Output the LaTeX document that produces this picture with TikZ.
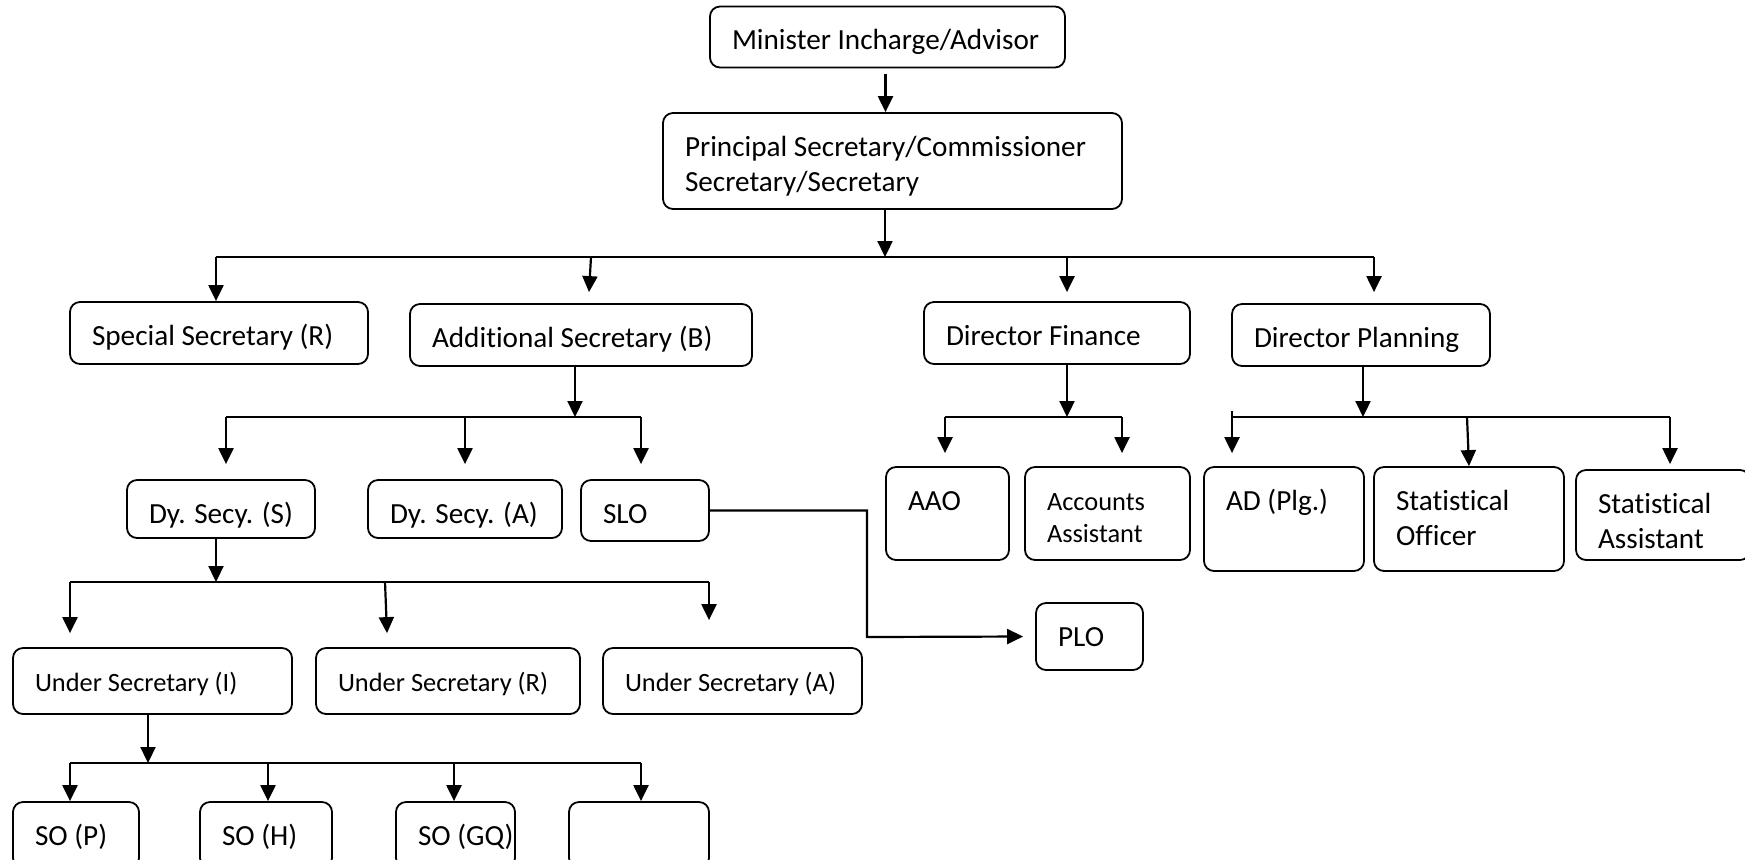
\documentclass[tikz,border=0pt]{standalone}
\usepackage{fontspec}
\setmainfont{Carlito}[Ligatures=NoCommon]
\usetikzlibrary{arrows.meta,calc}

\newcommand{\mainsz}{\fontsize{14.6}{17.8}\selectfont}
\newcommand{\smallsz}{\fontsize{13.2}{16.1}\selectfont}

\tikzset{every picture/.style={line width=1.1pt}}
\tikzset{
  unit/.style n args={3}{draw, rounded corners=5pt, line width=0.9pt, align=flush left,
    minimum width=#1*0.5pt, minimum height=#2*0.5pt, inner xsep=11pt, inner ysep=5pt,
    text width=#1*0.5pt-22pt, text height=16.5pt, text depth=#2*0.5pt-26.5pt, font=#3},
  flow/.style={-{Triangle[length=8pt,width=7.5pt]}},
}

\begin{document}
\begin{tikzpicture}[x=0.5pt,y=0.5pt,yscale=-1]
\clip (0,0) rectangle (1745,859);

% boxes
\node[unit={355}{61}{\mainsz}] (minister) at (887.5,37) {Minister Incharge/Advisor};
\node[unit={459}{96}{\mainsz}] (principal) at (892.5,161) {Principal Secretary/Commissioner\\Secretary/Secretary};

\node[unit={298}{62}{\mainsz}] (special) at (219,333) {Special Secretary (R)};
\node[unit={342}{62}{\mainsz}] (additional) at (581,335) {Additional Secretary (B)};
\node[unit={266}{62}{\mainsz}] (dfin) at (1057,333) {Director Finance};
\node[unit={258}{62}{\mainsz}] (dplan) at (1361,335) {Director Planning};

\node[unit={188}{58}{\mainsz}] (dys) at (221,509) {Dy. Secy. (S)};
\node[unit={194}{58}{\mainsz}] (dya) at (465,509) {Dy. Secy. (A)};
\node[unit={128}{61}{\mainsz}] (slo) at (645,510.5) {SLO};
\node[unit={107}{67}{\mainsz}] (plo) at (1089.5,636.5) {PLO};

\node[unit={123}{93}{\mainsz}] (aao) at (947.5,513.5) {AAO};
\node[unit={165}{93}{\smallsz}] (accass) at (1107.5,513.5) {Accounts\\Assistant};
\node[unit={160}{104}{\mainsz}] (adplg) at (1284,519) {AD (Plg.)};
\node[unit={190}{104}{\mainsz}] (statoff) at (1469,519) {Statistical\\Officer};
\node[unit={174}{90}{\mainsz}] (statass) at (1663,515) {Statistical\\Assistant};

\node[unit={279}{66}{\smallsz}] (usi) at (152.5,681) {Under Secretary (I)};
\node[unit={264}{66}{\smallsz}] (usr) at (448,681) {Under Secretary (R)};
\node[unit={259}{66}{\smallsz}] (usa) at (732.5,681) {Under Secretary (A)};

\node[unit={126}{66}{\mainsz}] (sop) at (76,835) {SO (P)};
\node[unit={132}{66}{\mainsz}] (soh) at (266,835) {SO (H)};
\node[unit={119}{66}{\mainsz}] (sogq) at (455.5,835) {\mbox{SO (GQ)}};
\node[unit={140}{66}{\mainsz}] (soblank) at (639,835) {};

% joints
\coordinate (head) at (885,257);
\coordinate (j1) at (216,257);
\coordinate (j2) at (591,257);
\coordinate (j3) at (1067,257);
\coordinate (j4) at (1374,257);

\coordinate (k0) at (575,417);
\coordinate (k1) at (226,417);
\coordinate (k2) at (465,417);
\coordinate (k3) at (641,417);

\coordinate (m0) at (216,582);
\coordinate (m1) at (70,582);
\coordinate (m2) at (385,582);
\coordinate (m3) at (709,582);

\coordinate (n0) at (148,763);
\coordinate (n1) at (70,763);
\coordinate (n2) at (268,763);
\coordinate (n3) at (454,763);
\coordinate (n4) at (641,763);

\coordinate (p0) at (1067,417);
\coordinate (p1) at (945,417);
\coordinate (p2) at (1122,417);

\coordinate (q0) at (1363,417);
\coordinate (q1) at (1232,417);
\coordinate (q2) at (1467,417);
\coordinate (q3) at (1670,417);

\coordinate (bend) at (867,637);

% connectors
\draw[flow] ($(minister.south)+(-2,6)$) -- ($(minister.south |- principal.north)+(-2,0)$);
\draw[flow] (head |- principal.south) -- (head);
\draw (j1) -- (j4);
\draw[flow] (j1) -- (j1 |- special.north);
\draw[flow] (j2) -- ($(j2 |- additional.north)+(-2,-11)$);
\draw[flow] (j3) -- ($(j3 |- dfin.north)+(0,-9)$);
\draw[flow] (j4) -- ($(j4 |- dplan.north)+(0,-11)$);

\draw[flow] (k0 |- additional.south) -- (k0);
\draw (k1) -- (k3);
\draw[flow] (k1) -- ($(k1 |- dys.north)+(0,-15)$);
\draw[flow] (k2) -- ($(k2 |- dya.north)+(0,-15)$);
\draw[flow] (k3) -- ($(k3 |- slo.north)+(0,-15)$);

\draw[flow] (slo.east) -| (bend) -- ($(plo.west)+(-12,0)$);

\draw[flow] (m0 |- dys.south) -- (m0);
\draw (m1) -- (m3);
\draw[flow] (m1) -- ($(m1 |- usi.north)+(0,-14)$);
\draw[flow] (m2) -- ($(m2 |- usr.north)+(2,-14)$);
\draw[flow] (m3) -- ($(m3 |- usa.north)+(0,-27)$);

\draw[flow] (n0 |- usi.south) -- (n0);
\draw (n1) -- (n4);
\draw[flow] (n1) -- (n1 |- sop.north);
\draw[flow] (n2) -- (n2 |- soh.north);
\draw[flow] (n3) -- (n3 |- sogq.north);
\draw[flow] (n4) -- (n4 |- soblank.north);

\draw[flow] (p0 |- dfin.south) -- (p0);
\draw (p1) -- (p2);
\draw[flow] (p1) -- ($(p1 |- aao.north)+(0,-13)$);
\draw[flow] (p2) -- ($(p2 |- accass.north)+(0,-13)$);

\draw[flow] (q0 |- dplan.south) -- (q0);
\draw (q1) -- (q3);
\draw[flow] ($(q1)+(0,-6)$) -- ($(q1 |- adplg.north)+(0,-13)$);
\draw[flow] (q2) -- ($(q2 |- statoff.north)+(2,0)$);
\draw[flow] (q3) -- ($(q3 |- statass.north)+(0,-5)$);
\end{tikzpicture}
\end{document}
